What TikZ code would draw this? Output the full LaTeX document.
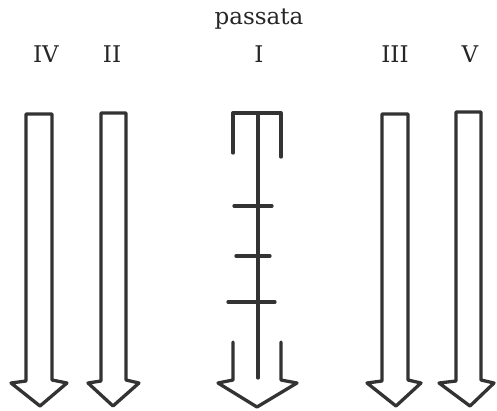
\documentclass[tikz,border=0pt]{standalone}
\usepackage{fontspec}
\setmainfont{DejaVu Serif}
\begin{document}
\begin{tikzpicture}[x=1pt,y=-1pt,
  stroke/.style={draw=black!80, line width=3.3pt, line join=round, line cap=round},
  lbl/.style={font=\fontsize{23}{28}\selectfont, text=black!85, inner sep=0pt}]
\useasboundingbox (0,0) rectangle (497,410);
% labels
\node[lbl] (passata) at (259,19) {passata};
\node[lbl] (l4) at (46,54) {IV};
\node[lbl] (l2) at (112,54) {II};
\node[lbl] (l1) at (259,54) {I};
\node[lbl] (l3) at (395,54) {III};
\node[lbl] (l5) at (470,54) {V};
% hollow arrows
\draw[stroke] (26,381) -- (26,114) -- (52,114) -- (52,380) -- (67,383) -- (40,406) -- (11,383) -- cycle;
\draw[stroke] (101,381) -- (101,113) -- (126,113) -- (126,380) -- (139,383) -- (113,406) -- (88,383) -- cycle;
\draw[stroke] (382,381) -- (382,114) -- (408,114) -- (408,380) -- (421,383) -- (396,406) -- (367,383) -- cycle;
\draw[stroke] (456,381) -- (456,112) -- (481,112) -- (481,380) -- (494,383) -- (470,406) -- (439,383) -- cycle;
% central broken arrow
\draw[stroke] (233,153) -- (233,113) -- (281,113) -- (281,157);
\draw[stroke] (258,113) -- (258,378);
\draw[stroke] (234,206) -- (272,206);
\draw[stroke] (236,256) -- (270,256);
\draw[stroke] (228,302) -- (275,302);
\draw[stroke] (233,342) -- (233,380) -- (218,383) -- (257,407) -- (297,383) -- (281,380) -- (281,342);
\end{tikzpicture}
\end{document}
